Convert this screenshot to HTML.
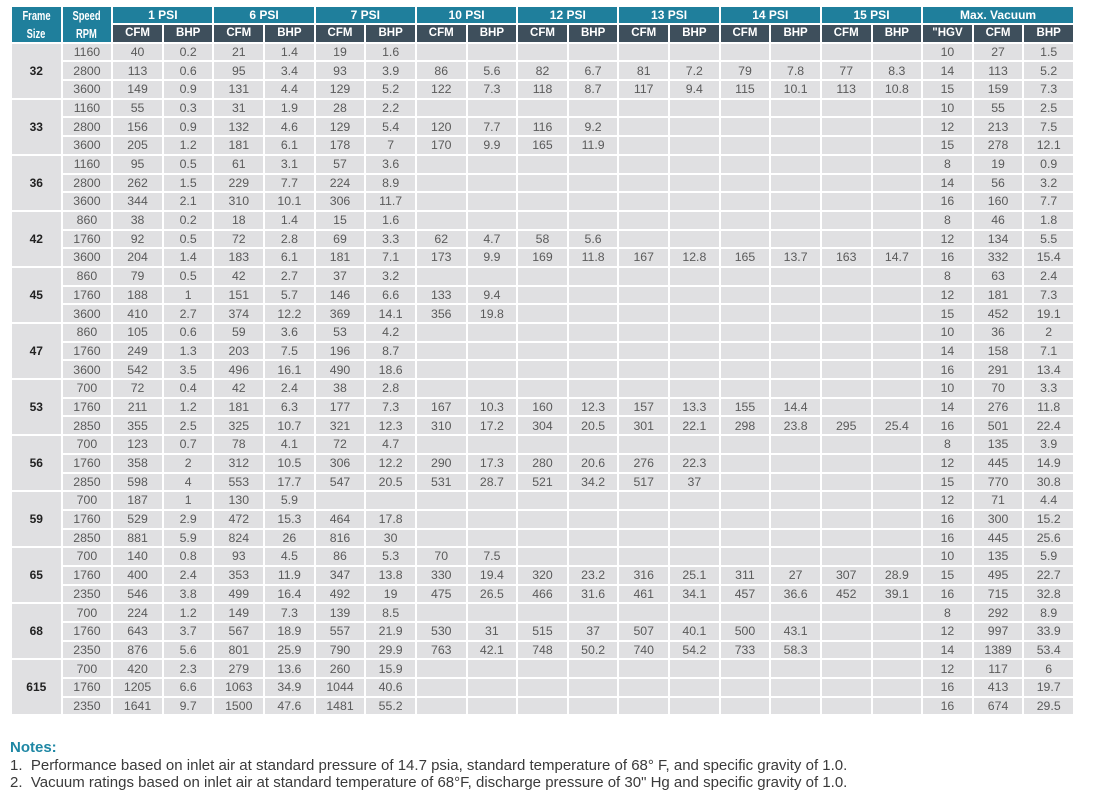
<!DOCTYPE html>
<html>
<head>
<meta charset="utf-8">
<style>
html,body{margin:0;padding:0;background:#fff;}
body{width:1103px;height:801px;overflow:hidden;position:relative;font-family:"Liberation Sans",Arial,sans-serif;}
.g{position:absolute;left:12px;top:7px;width:1061px;display:grid;
grid-template-columns:repeat(21,1fr);column-gap:2px;row-gap:2px;
grid-template-rows:16px 16.7px repeat(36,16.69px);}
.g>i{font-style:normal;background:#e0e0e2;color:#5a5a5a;font-size:12.3px;display:flex;align-items:center;justify-content:center;line-height:1;white-space:nowrap;}
.g>i.h{background:#1f7f9c;color:#fff;font-weight:bold;font-size:12px;}
.g>i.h2{grid-row:span 2;flex-direction:column;font-size:13px;gap:5px;}
.g>i.h2 span{display:block;transform:scaleX(0.72);}
.g>i.c2{grid-column:span 2;}
.g>i.c3{grid-column:span 3;}
.g>i.s{background:#3e4f5c;color:#fff;font-weight:bold;font-size:11.5px;}
.g>i.f{grid-row:span 3;color:#222;font-weight:bold;font-size:12px;}
.notes{position:absolute;left:10px;top:739px;color:#3a3a3a;font-size:15px;line-height:17.3px;}
.notes .t{color:#1e87a4;font-weight:bold;font-size:15px;line-height:18px;}
</style>
</head>
<body>
<div class="g">
<i class="h h2"><span>Frame</span><span>Size</span></i>
<i class="h h2"><span>Speed</span><span>RPM</span></i>
<i class="h c2">1 PSI</i><i class="h c2">6 PSI</i><i class="h c2">7 PSI</i><i class="h c2">10 PSI</i><i class="h c2">12 PSI</i><i class="h c2">13 PSI</i><i class="h c2">14 PSI</i><i class="h c2">15 PSI</i><i class="h c3">Max. Vacuum</i>
<i class="s">CFM</i><i class="s">BHP</i><i class="s">CFM</i><i class="s">BHP</i><i class="s">CFM</i><i class="s">BHP</i><i class="s">CFM</i><i class="s">BHP</i><i class="s">CFM</i><i class="s">BHP</i><i class="s">CFM</i><i class="s">BHP</i><i class="s">CFM</i><i class="s">BHP</i><i class="s">CFM</i><i class="s">BHP</i><i class="s">"HGV</i><i class="s">CFM</i><i class="s">BHP</i>

<i class="f">32</i>
<i>1160</i><i>40</i><i>0.2</i><i>21</i><i>1.4</i><i>19</i><i>1.6</i><i></i><i></i><i></i><i></i><i></i><i></i><i></i><i></i><i></i><i></i><i>10</i><i>27</i><i>1.5</i>
<i>2800</i><i>113</i><i>0.6</i><i>95</i><i>3.4</i><i>93</i><i>3.9</i><i>86</i><i>5.6</i><i>82</i><i>6.7</i><i>81</i><i>7.2</i><i>79</i><i>7.8</i><i>77</i><i>8.3</i><i>14</i><i>113</i><i>5.2</i>
<i>3600</i><i>149</i><i>0.9</i><i>131</i><i>4.4</i><i>129</i><i>5.2</i><i>122</i><i>7.3</i><i>118</i><i>8.7</i><i>117</i><i>9.4</i><i>115</i><i>10.1</i><i>113</i><i>10.8</i><i>15</i><i>159</i><i>7.3</i>

<i class="f">33</i>
<i>1160</i><i>55</i><i>0.3</i><i>31</i><i>1.9</i><i>28</i><i>2.2</i><i></i><i></i><i></i><i></i><i></i><i></i><i></i><i></i><i></i><i></i><i>10</i><i>55</i><i>2.5</i>
<i>2800</i><i>156</i><i>0.9</i><i>132</i><i>4.6</i><i>129</i><i>5.4</i><i>120</i><i>7.7</i><i>116</i><i>9.2</i><i></i><i></i><i></i><i></i><i></i><i></i><i>12</i><i>213</i><i>7.5</i>
<i>3600</i><i>205</i><i>1.2</i><i>181</i><i>6.1</i><i>178</i><i>7</i><i>170</i><i>9.9</i><i>165</i><i>11.9</i><i></i><i></i><i></i><i></i><i></i><i></i><i>15</i><i>278</i><i>12.1</i>

<i class="f">36</i>
<i>1160</i><i>95</i><i>0.5</i><i>61</i><i>3.1</i><i>57</i><i>3.6</i><i></i><i></i><i></i><i></i><i></i><i></i><i></i><i></i><i></i><i></i><i>8</i><i>19</i><i>0.9</i>
<i>2800</i><i>262</i><i>1.5</i><i>229</i><i>7.7</i><i>224</i><i>8.9</i><i></i><i></i><i></i><i></i><i></i><i></i><i></i><i></i><i></i><i></i><i>14</i><i>56</i><i>3.2</i>
<i>3600</i><i>344</i><i>2.1</i><i>310</i><i>10.1</i><i>306</i><i>11.7</i><i></i><i></i><i></i><i></i><i></i><i></i><i></i><i></i><i></i><i></i><i>16</i><i>160</i><i>7.7</i>

<i class="f">42</i>
<i>860</i><i>38</i><i>0.2</i><i>18</i><i>1.4</i><i>15</i><i>1.6</i><i></i><i></i><i></i><i></i><i></i><i></i><i></i><i></i><i></i><i></i><i>8</i><i>46</i><i>1.8</i>
<i>1760</i><i>92</i><i>0.5</i><i>72</i><i>2.8</i><i>69</i><i>3.3</i><i>62</i><i>4.7</i><i>58</i><i>5.6</i><i></i><i></i><i></i><i></i><i></i><i></i><i>12</i><i>134</i><i>5.5</i>
<i>3600</i><i>204</i><i>1.4</i><i>183</i><i>6.1</i><i>181</i><i>7.1</i><i>173</i><i>9.9</i><i>169</i><i>11.8</i><i>167</i><i>12.8</i><i>165</i><i>13.7</i><i>163</i><i>14.7</i><i>16</i><i>332</i><i>15.4</i>

<i class="f">45</i>
<i>860</i><i>79</i><i>0.5</i><i>42</i><i>2.7</i><i>37</i><i>3.2</i><i></i><i></i><i></i><i></i><i></i><i></i><i></i><i></i><i></i><i></i><i>8</i><i>63</i><i>2.4</i>
<i>1760</i><i>188</i><i>1</i><i>151</i><i>5.7</i><i>146</i><i>6.6</i><i>133</i><i>9.4</i><i></i><i></i><i></i><i></i><i></i><i></i><i></i><i></i><i>12</i><i>181</i><i>7.3</i>
<i>3600</i><i>410</i><i>2.7</i><i>374</i><i>12.2</i><i>369</i><i>14.1</i><i>356</i><i>19.8</i><i></i><i></i><i></i><i></i><i></i><i></i><i></i><i></i><i>15</i><i>452</i><i>19.1</i>

<i class="f">47</i>
<i>860</i><i>105</i><i>0.6</i><i>59</i><i>3.6</i><i>53</i><i>4.2</i><i></i><i></i><i></i><i></i><i></i><i></i><i></i><i></i><i></i><i></i><i>10</i><i>36</i><i>2</i>
<i>1760</i><i>249</i><i>1.3</i><i>203</i><i>7.5</i><i>196</i><i>8.7</i><i></i><i></i><i></i><i></i><i></i><i></i><i></i><i></i><i></i><i></i><i>14</i><i>158</i><i>7.1</i>
<i>3600</i><i>542</i><i>3.5</i><i>496</i><i>16.1</i><i>490</i><i>18.6</i><i></i><i></i><i></i><i></i><i></i><i></i><i></i><i></i><i></i><i></i><i>16</i><i>291</i><i>13.4</i>

<i class="f">53</i>
<i>700</i><i>72</i><i>0.4</i><i>42</i><i>2.4</i><i>38</i><i>2.8</i><i></i><i></i><i></i><i></i><i></i><i></i><i></i><i></i><i></i><i></i><i>10</i><i>70</i><i>3.3</i>
<i>1760</i><i>211</i><i>1.2</i><i>181</i><i>6.3</i><i>177</i><i>7.3</i><i>167</i><i>10.3</i><i>160</i><i>12.3</i><i>157</i><i>13.3</i><i>155</i><i>14.4</i><i></i><i></i><i>14</i><i>276</i><i>11.8</i>
<i>2850</i><i>355</i><i>2.5</i><i>325</i><i>10.7</i><i>321</i><i>12.3</i><i>310</i><i>17.2</i><i>304</i><i>20.5</i><i>301</i><i>22.1</i><i>298</i><i>23.8</i><i>295</i><i>25.4</i><i>16</i><i>501</i><i>22.4</i>

<i class="f">56</i>
<i>700</i><i>123</i><i>0.7</i><i>78</i><i>4.1</i><i>72</i><i>4.7</i><i></i><i></i><i></i><i></i><i></i><i></i><i></i><i></i><i></i><i></i><i>8</i><i>135</i><i>3.9</i>
<i>1760</i><i>358</i><i>2</i><i>312</i><i>10.5</i><i>306</i><i>12.2</i><i>290</i><i>17.3</i><i>280</i><i>20.6</i><i>276</i><i>22.3</i><i></i><i></i><i></i><i></i><i>12</i><i>445</i><i>14.9</i>
<i>2850</i><i>598</i><i>4</i><i>553</i><i>17.7</i><i>547</i><i>20.5</i><i>531</i><i>28.7</i><i>521</i><i>34.2</i><i>517</i><i>37</i><i></i><i></i><i></i><i></i><i>15</i><i>770</i><i>30.8</i>

<i class="f">59</i>
<i>700</i><i>187</i><i>1</i><i>130</i><i>5.9</i><i></i><i></i><i></i><i></i><i></i><i></i><i></i><i></i><i></i><i></i><i></i><i></i><i>12</i><i>71</i><i>4.4</i>
<i>1760</i><i>529</i><i>2.9</i><i>472</i><i>15.3</i><i>464</i><i>17.8</i><i></i><i></i><i></i><i></i><i></i><i></i><i></i><i></i><i></i><i></i><i>16</i><i>300</i><i>15.2</i>
<i>2850</i><i>881</i><i>5.9</i><i>824</i><i>26</i><i>816</i><i>30</i><i></i><i></i><i></i><i></i><i></i><i></i><i></i><i></i><i></i><i></i><i>16</i><i>445</i><i>25.6</i>

<i class="f">65</i>
<i>700</i><i>140</i><i>0.8</i><i>93</i><i>4.5</i><i>86</i><i>5.3</i><i>70</i><i>7.5</i><i></i><i></i><i></i><i></i><i></i><i></i><i></i><i></i><i>10</i><i>135</i><i>5.9</i>
<i>1760</i><i>400</i><i>2.4</i><i>353</i><i>11.9</i><i>347</i><i>13.8</i><i>330</i><i>19.4</i><i>320</i><i>23.2</i><i>316</i><i>25.1</i><i>311</i><i>27</i><i>307</i><i>28.9</i><i>15</i><i>495</i><i>22.7</i>
<i>2350</i><i>546</i><i>3.8</i><i>499</i><i>16.4</i><i>492</i><i>19</i><i>475</i><i>26.5</i><i>466</i><i>31.6</i><i>461</i><i>34.1</i><i>457</i><i>36.6</i><i>452</i><i>39.1</i><i>16</i><i>715</i><i>32.8</i>

<i class="f">68</i>
<i>700</i><i>224</i><i>1.2</i><i>149</i><i>7.3</i><i>139</i><i>8.5</i><i></i><i></i><i></i><i></i><i></i><i></i><i></i><i></i><i></i><i></i><i>8</i><i>292</i><i>8.9</i>
<i>1760</i><i>643</i><i>3.7</i><i>567</i><i>18.9</i><i>557</i><i>21.9</i><i>530</i><i>31</i><i>515</i><i>37</i><i>507</i><i>40.1</i><i>500</i><i>43.1</i><i></i><i></i><i>12</i><i>997</i><i>33.9</i>
<i>2350</i><i>876</i><i>5.6</i><i>801</i><i>25.9</i><i>790</i><i>29.9</i><i>763</i><i>42.1</i><i>748</i><i>50.2</i><i>740</i><i>54.2</i><i>733</i><i>58.3</i><i></i><i></i><i>14</i><i>1389</i><i>53.4</i>

<i class="f">615</i>
<i>700</i><i>420</i><i>2.3</i><i>279</i><i>13.6</i><i>260</i><i>15.9</i><i></i><i></i><i></i><i></i><i></i><i></i><i></i><i></i><i></i><i></i><i>12</i><i>117</i><i>6</i>
<i>1760</i><i>1205</i><i>6.6</i><i>1063</i><i>34.9</i><i>1044</i><i>40.6</i><i></i><i></i><i></i><i></i><i></i><i></i><i></i><i></i><i></i><i></i><i>16</i><i>413</i><i>19.7</i>
<i>2350</i><i>1641</i><i>9.7</i><i>1500</i><i>47.6</i><i>1481</i><i>55.2</i><i></i><i></i><i></i><i></i><i></i><i></i><i></i><i></i><i></i><i></i><i>16</i><i>674</i><i>29.5</i>
</div>

<div class="notes">
<div class="t">Notes:</div>
<div>1.&nbsp; Performance based on inlet air at standard pressure of 14.7 psia, standard temperature of 68° F, and specific gravity of 1.0.</div>
<div>2.&nbsp; Vacuum ratings based on inlet air at standard temperature of 68°F, discharge pressure of 30" Hg and specific gravity of 1.0.</div>
</div>
</body>
</html>
